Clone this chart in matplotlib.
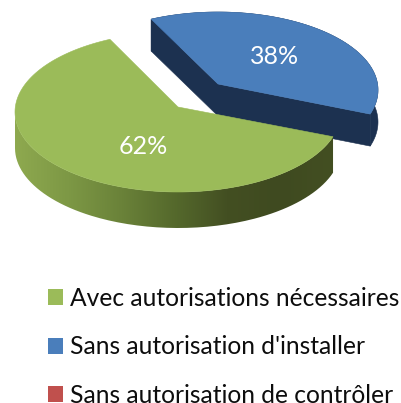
import numpy as np
import matplotlib
matplotlib.use("Agg")
import matplotlib.pyplot as plt
from matplotlib.colors import LinearSegmentedColormap
from matplotlib.patches import Patch, PathPatch
from matplotlib.path import Path

categories = ["Avec autorisations nécessaires", "Sans autorisation d'installer",
              "Sans autorisation de contrôler"]
values = [62, 38, 0]
colors = ["#9bbb59", "#4a7ebb", "#c0504d"]

plt.rcParams['font.family'] = ['Lato', 'DejaVu Sans']

W, H = 401, 403
RX, RY = 163, 80
DEPTH = 35
START = 116  # degrees, counter-clockwise from +x


def warp(a):
    # the tilted pie stretches angles a little towards the viewer
    return a + 3 * np.cos(np.radians(a))


def arc(cx, cy, rx, ry, a0, a1, n=200):
    t = np.radians(warp(np.linspace(a0, a1, n)))
    return np.column_stack([cx + rx * np.cos(t), cy - ry * np.sin(t)])


def poly(ax, pts, color, zorder):
    p = ax.fill(pts[:, 0], pts[:, 1], color=color, lw=0.4, zorder=zorder)[0]
    return p


fig = plt.figure(figsize=(W / 100, H / 100), dpi=100)
ax = fig.add_axes([0, 0, 1, 1])
ax.set_xlim(0, W)
ax.set_ylim(H, 0)
ax.axis('off')

sweep = [v / sum(values) * 360 for v in values]

# blue slice, pulled away from the centre
g0, g1 = START, START + sweep[0]
b0, b1 = g1, g1 + sweep[1]
bc = (218, 90)
bapex = np.array([218, 84])
barc = arc(bc[0], bc[1], 160, 78, b0, b1)
down = np.array([0, DEPTH - 3])
side = np.vstack([barc, barc[::-1] + down])
poly(ax, side, "#1c3150", 1)
for a, b in [(bapex, barc[0]), (bapex, barc[-1])]:
    poly(ax, np.array([a, b, b + down, a + down]), "#1c3150", 1)
poly(ax, np.vstack([bapex, barc]), colors[1], 2)

# green slice
gc = (178, 112)
gapex = np.array([178, 107])
garc = arc(gc[0], gc[1], RX, RY, g0, g1)
front = garc[garc[:, 1] >= gc[1]]
wall = np.vstack([front, front[::-1] + [0, DEPTH + 1]])
wall_cmap = LinearSegmentedColormap.from_list(
    "wall", ["#8ea94f", "#7d9845", "#6a8239", "#55692c", "#434f22", "#3f4a20", "#434f22"])
grad = ax.imshow(np.linspace(0, 1, 256)[None, :], cmap=wall_cmap, aspect='auto',
                 extent=(15, 334, 240, 100), zorder=3)
grad.set_clip_path(PathPatch(Path(wall), transform=ax.transData))
ax.set_xlim(0, W)
ax.set_ylim(H, 0)
poly(ax, np.vstack([gapex, garc]), colors[0], 4)

ax.text(143, 146, f"{values[0]}%", color='white', fontsize=18, ha='center', va='center', zorder=5)
ax.text(275, 57, f"{values[1]}%", color='white', fontsize=18, ha='center', va='center', zorder=5)

handles = [Patch(facecolor=c, edgecolor='none') for c in colors]
ax.legend(handles, categories, loc='upper left', bbox_to_anchor=(48 / W, 1 - 287 / H),
          frameon=False, fontsize=17.7, handlelength=0.61, handleheight=0.61,
          handletextpad=0.29, labelspacing=1.03, borderpad=0, borderaxespad=0,
          labelcolor='#0d0d0d')

fig.savefig("out.png", dpi=100)
